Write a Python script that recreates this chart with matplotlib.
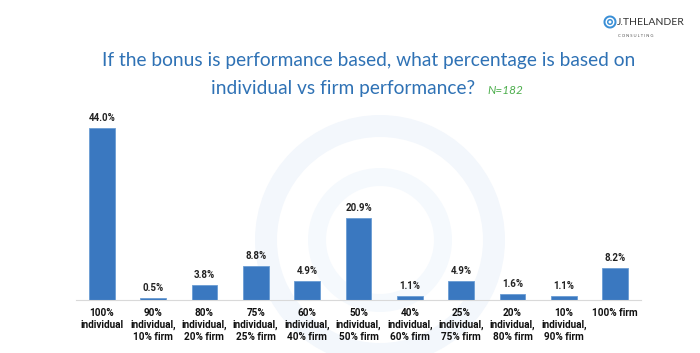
import matplotlib
matplotlib.use("Agg")
import matplotlib.pyplot as plt
from matplotlib.patches import Wedge

categories = ['100%\nindividual', '90%\nindividual,\n10% firm', '80%\nindividual,\n20% firm',
              '75%\nindividual,\n25% firm', '60%\nindividual,\n40% firm', '50%\nindividual,\n50% firm',
              '40%\nindividual,\n60% firm', '25%\nindividual,\n75% firm', '20%\nindividual,\n80% firm',
              '10%\nindividual,\n90% firm', '100% firm']
values = [44.0, 0.5, 3.8, 8.8, 4.9, 20.9, 1.1, 4.9, 1.6, 1.1, 8.2]

fig = plt.figure(figsize=(7, 3.53), dpi=100)

# faint watermark ring behind the chart
wm = fig.add_axes([0, 0, 1, 1], zorder=0)
wm.set_xlim(0, 700)
wm.set_ylim(353, 0)
wm.axis('off')
wm.add_patch(Wedge((380, 240), 125, 0, 360, width=22, facecolor='#f3f7fc', edgecolor='none'))
wm.add_patch(Wedge((380, 240), 72, 0, 360, width=18, facecolor='#f5f9fd', edgecolor='none'))

ax = fig.add_axes([0.1086, 0.150, 0.807, 0.538], zorder=1)
ax.patch.set_alpha(0)
x = range(len(values))
bars = ax.bar(x, values, width=0.5, color='#3a78c0', edgecolor='#6a9dd4', linewidth=0.6)
for b, v in zip(bars, values):
    ax.text(b.get_x() + b.get_width() / 2, v + 1.3, f'{v:.1f}%', ha='center', va='bottom',
            fontsize=7, fontweight='bold', color='#222222', family='Roboto')

ax.set_xlim(-0.5, len(values) - 0.5)
ax.set_ylim(0, 48.6)
ax.set_xticks(list(x))
ax.set_xticklabels(categories, fontsize=7.2, fontweight='bold', color='#111111',
                   linespacing=1.2, family='Roboto')
ax.tick_params(axis='x', length=0, pad=6)
ax.set_yticks([])
for s in ['top', 'right', 'left']:
    ax.spines[s].set_visible(False)
ax.spines['bottom'].set_color('#d9d9d9')
ax.spines['bottom'].set_linewidth(0.8)

# title
fig.text(0.526, 0.83, 'If the bonus is performance based, what percentage is based on',
         ha='center', va='center', fontsize=13.8, color='#2f72b5', family='Lato')
fig.text(0.49, 0.75, 'individual vs firm performance?', ha='center', va='center',
         fontsize=13.8, color='#2f72b5', family='Lato')
fig.text(0.697, 0.745, 'N=182', ha='left', va='center', fontsize=8.5, style='italic',
         color='#4cae4c', family='Lato')

# logo
fig.text(0.881, 0.935, 'J.THELANDER', ha='left', va='center', fontsize=7.5, color='#333333',
         family='Lato')
fig.text(0.883, 0.897, 'C O N S U L T I N G', ha='left', va='center', fontsize=3,
         color='#555555', family='Lato')
wm.add_patch(Wedge((610, 22), 6.5, 0, 360, width=2, facecolor='#3a8fd6', edgecolor='none'))
wm.add_patch(Wedge((610, 22), 3, 0, 360, width=1.5, facecolor='#3a8fd6', edgecolor='none'))

fig.savefig('out.png', dpi=100)
